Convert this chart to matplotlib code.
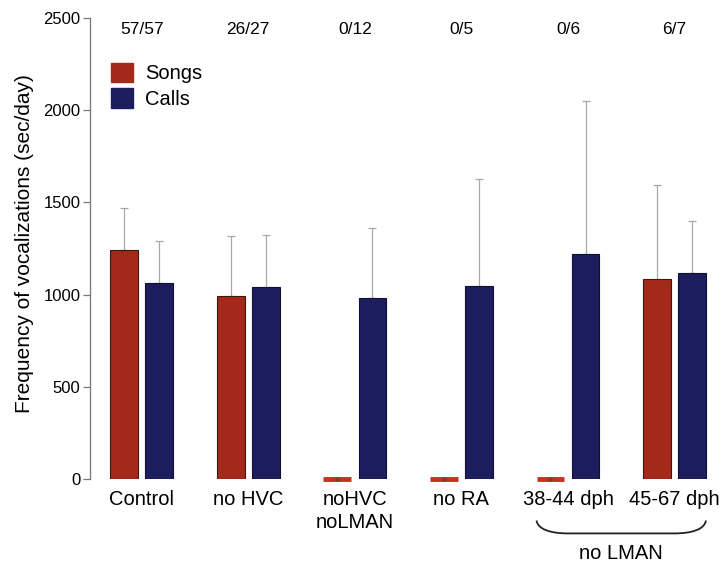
import matplotlib.pyplot as plt
import numpy as np
from matplotlib.path import Path
from matplotlib.patches import PathPatch
import matplotlib.transforms as mtransforms

plt.rcParams['font.family'] = ['Liberation Sans', 'DejaVu Sans']

groups = ['Control', 'no HVC', 'noHVC\nnoLMAN', 'no RA', '38-44 dph', '45-67 dph']
counts = ['57/57', '26/27', '0/12', '0/5', '0/6', '6/7']
songs = [1242, 992, 0, 0, 0, 1085]
songs_err = [228, 326, 0, 0, 0, 509]
calls = [1063, 1041, 982, 1047, 1220, 1117]
calls_err = [227, 282, 379, 580, 830, 283]

red = '#a3291a'
navy = '#1c1d5c'

fig = plt.figure(figsize=(7.28, 5.64), dpi=100)
ax = fig.add_axes([0.1236, 0.1507, 0.86, 0.8174])

x = np.arange(len(groups))
w = 0.26
off = 0.165
songs = np.array(songs)
has_song = songs > 0

ax.bar(x[has_song] - off, songs[has_song], w, color=red, edgecolor='#3a1a10', linewidth=0.8, zorder=2)
ax.bar(x + off, calls, w, color=navy, edgecolor='#101030', linewidth=0.8, zorder=2)

# songs with zero value: flat red line at the baseline
ax.hlines(songs[~has_song], x[~has_song] - off - w / 2, x[~has_song] - off + w / 2,
          color='#c8321e', linewidth=3.5, zorder=3, clip_on=False)
ax.plot(x[~has_song] - off, songs[~has_song], 'o', color='#8a3a30', ms=2.5, zorder=4, clip_on=False)

# one-sided error bars
ax.errorbar(x[has_song] - off, songs[has_song], yerr=[np.zeros(has_song.sum()), np.array(songs_err)[has_song]],
            fmt='none', ecolor='#a8a8a8', elinewidth=0.9, capsize=3, capthick=0.9, zorder=1)
ax.errorbar(x + off, calls, yerr=[np.zeros(len(calls)), calls_err],
            fmt='none', ecolor='#a8a8a8', elinewidth=0.9, capsize=3, capthick=0.9, zorder=1)

for xi, c in zip(x, counts):
    ax.text(xi, 2435, c, ha='center', va='center', fontsize=12.5)

ax.set_xlim(-0.486, 5.39)
ax.set_ylim(0, 2500)
ax.set_yticks([0, 500, 1000, 1500, 2000, 2500])
ax.set_xticks(x)
ax.set_xticklabels(groups, fontsize=14.5, linespacing=1.25)
ax.tick_params(axis='x', length=0, pad=8)
ax.tick_params(axis='y', direction='out', length=5, width=0.9, color='#777777', labelsize=12, pad=2)
for s in ['top', 'right', 'bottom']:
    ax.spines[s].set_visible(False)
ax.spines['left'].set_color('#777777')
ax.spines['left'].set_linewidth(0.9)
ax.set_ylabel('Frequency of vocalizations (sec/day)', fontsize=15)
ax.yaxis.set_label_coords(-0.09, 0.51)

handles = [plt.Rectangle((0, 0), 1, 1, color=red), plt.Rectangle((0, 0), 1, 1, color=navy)]
ax.legend(handles, ['Songs', 'Calls'], loc='upper left', bbox_to_anchor=(0.02, 0.92), frameon=False,
          fontsize=14.5, handlelength=1.1, handleheight=1.1, handletextpad=0.6, labelspacing=0.25,
          borderaxespad=0)

# bracket under the two no-LMAN groups
trans = mtransforms.blended_transform_factory(ax.transData, ax.transAxes)
xl = x[4] - off - w / 2
xr = x[5] + off + w / 2
yt, yb = -0.090, -0.118
verts = [(xl, yt), (xl + 0.02, yb), (xl + 0.25, yb), (xl + 0.3, yb),
         (xr - 0.3, yb),
         (xr - 0.25, yb), (xr - 0.02, yb), (xr, yt)]
codes = [Path.MOVETO, Path.CURVE4, Path.CURVE4, Path.CURVE4,
         Path.LINETO,
         Path.CURVE4, Path.CURVE4, Path.CURVE4]
ax.add_patch(PathPatch(Path(verts, codes), transform=trans, fill=False, lw=1.3,
                       edgecolor='#222222', clip_on=False))
ax.text((xl + xr) / 2, -0.162, 'no LMAN', transform=trans, ha='center', va='center', fontsize=14.5)

fig.savefig('out.png', dpi=100)
